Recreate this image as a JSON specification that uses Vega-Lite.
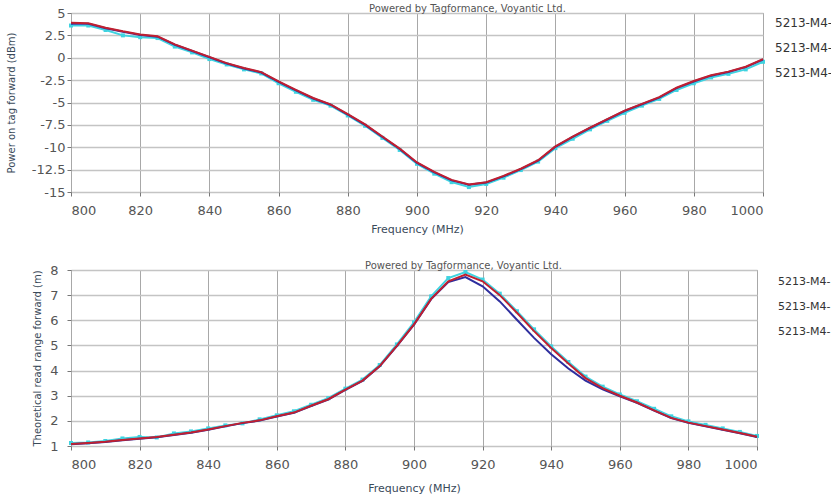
{
"$schema": "https://vega.github.io/schema/vega-lite/v6.json",
"padding": {"left": 5, "top": 3, "right": 0, "bottom": 0},
"bounds": "flush",
"spacing": 78,
"resolve": {"scale": {"color": "independent"}, "legend": {"color": "independent"}},
"config": {
  "font": "DejaVu Sans",
  "view": {"stroke": "#8a8a8a", "strokeWidth": 1},
  "axis": {"labelFont": "DejaVu Sans", "labelFontSize": 13, "labelColor": "#555555", "tickColor": "#777777", "tickSize": 4, "domain": false, "titleFont": "DejaVu Sans", "titleFontWeight": "normal", "titleColor": "#3a4a5a"},
  "axisX": {"gridColor": "#a8a8a8", "gridWidth": 1},
  "axisY": {"gridColor": "#c4c4c4", "gridWidth": 1.6},
  "legend": {"labelFont": "DejaVu Sans", "labelFontSize": 12, "labelColor": "#333333", "symbolSize": 0, "symbolOpacity": 0, "symbolStrokeWidth": 0, "labelOffset": 0, "padding": 0, "title": null}
},
"datasets": {
"power": [
{"s":"A","f":800,"v":3.6},{"s":"A","f":805,"v":3.6},{"s":"A","f":810,"v":3.1},{"s":"A","f":815,"v":2.5},{"s":"A","f":820,"v":2.3},{"s":"A","f":825,"v":2.2},{"s":"A","f":830,"v":1.25},{"s":"A","f":835,"v":0.6},{"s":"A","f":840,"v":-0.15},{"s":"A","f":845,"v":-0.75},{"s":"A","f":850,"v":-1.3},{"s":"A","f":855,"v":-1.75},{"s":"A","f":860,"v":-2.85},{"s":"A","f":865,"v":-3.8},{"s":"A","f":870,"v":-4.7},{"s":"A","f":875,"v":-5.35},{"s":"A","f":880,"v":-6.45},{"s":"A","f":885,"v":-7.6},{"s":"A","f":890,"v":-8.95},{"s":"A","f":895,"v":-10.3},{"s":"A","f":900,"v":-11.85},{"s":"A","f":905,"v":-12.95},{"s":"A","f":910,"v":-13.9},{"s":"A","f":915,"v":-14.45},{"s":"A","f":920,"v":-14.1},{"s":"A","f":925,"v":-13.4},{"s":"A","f":930,"v":-12.55},{"s":"A","f":935,"v":-11.6},{"s":"A","f":940,"v":-10.1},{"s":"A","f":945,"v":-9.05},{"s":"A","f":950,"v":-8.0},{"s":"A","f":955,"v":-7.05},{"s":"A","f":960,"v":-6.15},{"s":"A","f":965,"v":-5.35},{"s":"A","f":970,"v":-4.6},{"s":"A","f":975,"v":-3.6},{"s":"A","f":980,"v":-2.85},{"s":"A","f":985,"v":-2.2},{"s":"A","f":990,"v":-1.8},{"s":"A","f":995,"v":-1.3},{"s":"A","f":1000,"v":-0.45},
{"s":"C","f":800,"v":3.8},{"s":"C","f":805,"v":3.8},{"s":"C","f":810,"v":3.3},{"s":"C","f":815,"v":2.9},{"s":"C","f":820,"v":2.55},{"s":"C","f":825,"v":2.35},{"s":"C","f":830,"v":1.45},{"s":"C","f":835,"v":0.75},{"s":"C","f":840,"v":0.05},{"s":"C","f":845,"v":-0.65},{"s":"C","f":850,"v":-1.2},{"s":"C","f":855,"v":-1.65},{"s":"C","f":860,"v":-2.7},{"s":"C","f":865,"v":-3.65},{"s":"C","f":870,"v":-4.55},{"s":"C","f":875,"v":-5.25},{"s":"C","f":880,"v":-6.35},{"s":"C","f":885,"v":-7.5},{"s":"C","f":890,"v":-8.85},{"s":"C","f":895,"v":-10.2},{"s":"C","f":900,"v":-11.75},{"s":"C","f":905,"v":-12.8},{"s":"C","f":910,"v":-13.7},{"s":"C","f":915,"v":-14.2},{"s":"C","f":920,"v":-13.95},{"s":"C","f":925,"v":-13.25},{"s":"C","f":930,"v":-12.45},{"s":"C","f":935,"v":-11.5},{"s":"C","f":940,"v":-9.95},{"s":"C","f":945,"v":-8.85},{"s":"C","f":950,"v":-7.85},{"s":"C","f":955,"v":-6.9},{"s":"C","f":960,"v":-5.95},{"s":"C","f":965,"v":-5.2},{"s":"C","f":970,"v":-4.45},{"s":"C","f":975,"v":-3.4},{"s":"C","f":980,"v":-2.65},{"s":"C","f":985,"v":-2.0},{"s":"C","f":990,"v":-1.6},{"s":"C","f":995,"v":-1.05},{"s":"C","f":1000,"v":-0.2},
{"s":"B","f":800,"v":3.9},{"s":"B","f":805,"v":3.85},{"s":"B","f":810,"v":3.35},{"s":"B","f":815,"v":2.95},{"s":"B","f":820,"v":2.6},{"s":"B","f":825,"v":2.4},{"s":"B","f":830,"v":1.5},{"s":"B","f":835,"v":0.8},{"s":"B","f":840,"v":0.1},{"s":"B","f":845,"v":-0.6},{"s":"B","f":850,"v":-1.15},{"s":"B","f":855,"v":-1.6},{"s":"B","f":860,"v":-2.65},{"s":"B","f":865,"v":-3.6},{"s":"B","f":870,"v":-4.5},{"s":"B","f":875,"v":-5.2},{"s":"B","f":880,"v":-6.3},{"s":"B","f":885,"v":-7.45},{"s":"B","f":890,"v":-8.8},{"s":"B","f":895,"v":-10.15},{"s":"B","f":900,"v":-11.7},{"s":"B","f":905,"v":-12.75},{"s":"B","f":910,"v":-13.65},{"s":"B","f":915,"v":-14.15},{"s":"B","f":920,"v":-13.9},{"s":"B","f":925,"v":-13.2},{"s":"B","f":930,"v":-12.4},{"s":"B","f":935,"v":-11.45},{"s":"B","f":940,"v":-9.9},{"s":"B","f":945,"v":-8.8},{"s":"B","f":950,"v":-7.8},{"s":"B","f":955,"v":-6.85},{"s":"B","f":960,"v":-5.9},{"s":"B","f":965,"v":-5.15},{"s":"B","f":970,"v":-4.4},{"s":"B","f":975,"v":-3.35},{"s":"B","f":980,"v":-2.6},{"s":"B","f":985,"v":-1.95},{"s":"B","f":990,"v":-1.55},{"s":"B","f":995,"v":-1.0},{"s":"B","f":1000,"v":-0.15}
],
"range": [
{"s":"A","f":800,"v":1.12},{"s":"A","f":805,"v":1.14},{"s":"A","f":810,"v":1.2},{"s":"A","f":815,"v":1.3},{"s":"A","f":820,"v":1.36},{"s":"A","f":825,"v":1.34},{"s":"A","f":830,"v":1.5},{"s":"A","f":835,"v":1.58},{"s":"A","f":840,"v":1.7},{"s":"A","f":845,"v":1.82},{"s":"A","f":850,"v":1.9},{"s":"A","f":855,"v":2.06},{"s":"A","f":860,"v":2.22},{"s":"A","f":865,"v":2.38},{"s":"A","f":870,"v":2.64},{"s":"A","f":875,"v":2.9},{"s":"A","f":880,"v":3.28},{"s":"A","f":885,"v":3.64},{"s":"A","f":890,"v":4.22},{"s":"A","f":895,"v":5.04},{"s":"A","f":900,"v":5.92},{"s":"A","f":905,"v":6.95},{"s":"A","f":910,"v":7.68},{"s":"A","f":915,"v":7.92},{"s":"A","f":920,"v":7.62},{"s":"A","f":925,"v":7.06},{"s":"A","f":930,"v":6.36},{"s":"A","f":935,"v":5.64},{"s":"A","f":940,"v":4.96},{"s":"A","f":945,"v":4.34},{"s":"A","f":950,"v":3.76},{"s":"A","f":955,"v":3.36},{"s":"A","f":960,"v":3.05},{"s":"A","f":965,"v":2.78},{"s":"A","f":970,"v":2.48},{"s":"A","f":975,"v":2.18},{"s":"A","f":980,"v":1.98},{"s":"A","f":985,"v":1.84},{"s":"A","f":990,"v":1.7},{"s":"A","f":995,"v":1.56},{"s":"A","f":1000,"v":1.4},
{"s":"C","f":800,"v":1.07},{"s":"C","f":805,"v":1.11},{"s":"C","f":810,"v":1.16},{"s":"C","f":815,"v":1.23},{"s":"C","f":820,"v":1.29},{"s":"C","f":825,"v":1.35},{"s":"C","f":830,"v":1.44},{"s":"C","f":835,"v":1.53},{"s":"C","f":840,"v":1.65},{"s":"C","f":845,"v":1.78},{"s":"C","f":850,"v":1.91},{"s":"C","f":855,"v":2.01},{"s":"C","f":860,"v":2.17},{"s":"C","f":865,"v":2.32},{"s":"C","f":870,"v":2.59},{"s":"C","f":875,"v":2.85},{"s":"C","f":880,"v":3.23},{"s":"C","f":885,"v":3.59},{"s":"C","f":890,"v":4.17},{"s":"C","f":895,"v":4.97},{"s":"C","f":900,"v":5.83},{"s":"C","f":905,"v":6.84},{"s":"C","f":910,"v":7.52},{"s":"C","f":915,"v":7.72},{"s":"C","f":920,"v":7.35},{"s":"C","f":925,"v":6.75},{"s":"C","f":930,"v":6.02},{"s":"C","f":935,"v":5.3},{"s":"C","f":940,"v":4.65},{"s":"C","f":945,"v":4.08},{"s":"C","f":950,"v":3.6},{"s":"C","f":955,"v":3.25},{"s":"C","f":960,"v":2.98},{"s":"C","f":965,"v":2.72},{"s":"C","f":970,"v":2.41},{"s":"C","f":975,"v":2.11},{"s":"C","f":980,"v":1.92},{"s":"C","f":985,"v":1.78},{"s":"C","f":990,"v":1.65},{"s":"C","f":995,"v":1.51},{"s":"C","f":1000,"v":1.36},
{"s":"B","f":800,"v":1.08},{"s":"B","f":805,"v":1.12},{"s":"B","f":810,"v":1.17},{"s":"B","f":815,"v":1.24},{"s":"B","f":820,"v":1.3},{"s":"B","f":825,"v":1.36},{"s":"B","f":830,"v":1.45},{"s":"B","f":835,"v":1.54},{"s":"B","f":840,"v":1.66},{"s":"B","f":845,"v":1.79},{"s":"B","f":850,"v":1.92},{"s":"B","f":855,"v":2.02},{"s":"B","f":860,"v":2.18},{"s":"B","f":865,"v":2.33},{"s":"B","f":870,"v":2.6},{"s":"B","f":875,"v":2.86},{"s":"B","f":880,"v":3.24},{"s":"B","f":885,"v":3.6},{"s":"B","f":890,"v":4.18},{"s":"B","f":895,"v":4.98},{"s":"B","f":900,"v":5.84},{"s":"B","f":905,"v":6.85},{"s":"B","f":910,"v":7.55},{"s":"B","f":915,"v":7.82},{"s":"B","f":920,"v":7.55},{"s":"B","f":925,"v":7.0},{"s":"B","f":930,"v":6.3},{"s":"B","f":935,"v":5.57},{"s":"B","f":940,"v":4.9},{"s":"B","f":945,"v":4.28},{"s":"B","f":950,"v":3.7},{"s":"B","f":955,"v":3.3},{"s":"B","f":960,"v":3.0},{"s":"B","f":965,"v":2.73},{"s":"B","f":970,"v":2.42},{"s":"B","f":975,"v":2.12},{"s":"B","f":980,"v":1.93},{"s":"B","f":985,"v":1.79},{"s":"B","f":990,"v":1.66},{"s":"B","f":995,"v":1.52},{"s":"B","f":1000,"v":1.37}
]
},
"vconcat": [
{
  "title": {"text": "Powered by Tagformance, Voyantic Ltd.", "anchor": "start", "frame": "group", "dx": 298, "offset": -15, "baseline": "alphabetic", "fontSize": 10, "fontWeight": "normal", "color": "#555555", "font": "DejaVu Sans"},
  "width": 692, "height": 179,
  "data": {"name": "power"},
  "encoding": {
    "x": {"field": "f", "type": "quantitative", "scale": {"domain": [800, 1000], "nice": false, "zero": false},
          "axis": {"values": [800,820,840,860,880,900,920,940,960,980,1000], "format": "d", "title": "Frequency (MHz)", "labelPadding": 8, "titlePadding": 6, "titleFontSize": 11}},
    "y": {"field": "v", "type": "quantitative", "scale": {"domain": [-15, 5], "nice": false, "zero": false},
          "axis": {"values": [-15,-12.5,-10,-7.5,-5,-2.5,0,2.5,5], "format": ".1~f", "labelExpr": "replace(datum.label, '\u2212', '-')", "title": "Power on tag forward (dBm)", "titleFontSize": 10, "labelPadding": 2, "titlePadding": 15}}
  },
  "layer": [
    {"transform": [{"filter": "datum.s === 'A'"}], "mark": {"type": "square", "size": 16, "color": "#3fd3e0", "opacity": 1}},
    {"mark": {"type": "line", "strokeWidth": 2},
     "encoding": {"color": {"field": "s", "type": "nominal", "scale": {"domain": ["A","B","C"], "range": ["#3fd3e0", "#c02030", "#2e2e9e"]},
       "legend": {"orient": "none", "legendX": 692, "legendY": 4, "rowPadding": 13, "labelExpr": "'5213-M4-'"}},
       "opacity": {"field": "s", "type": "nominal", "scale": {"domain": ["A","B","C"], "range": [1, 1, 0.8]}, "legend": null}}}
  ]
},
{
  "title": {"text": "Powered by Tagformance, Voyantic Ltd.", "anchor": "start", "frame": "group", "dx": 294, "offset": -15, "baseline": "alphabetic", "fontSize": 10, "fontWeight": "normal", "color": "#555555", "font": "DejaVu Sans"},
  "width": 686, "height": 176,
  "data": {"name": "range"},
  "encoding": {
    "x": {"field": "f", "type": "quantitative", "scale": {"domain": [800, 1000], "nice": false, "zero": false},
          "axis": {"values": [800,820,840,860,880,900,920,940,960,980,1000], "format": "d", "title": "Frequency (MHz)", "labelPadding": 8, "titlePadding": 11, "titleFontSize": 11}},
    "y": {"field": "v", "type": "quantitative", "scale": {"domain": [1, 8], "nice": false, "zero": false},
          "axis": {"values": [1,2,3,4,5,6,7,8], "title": "Theoretical read range forward (m)", "titleFontSize": 10, "labelPadding": 9, "titlePadding": 7}}
  },
  "layer": [
    {"transform": [{"filter": "datum.s === 'A'"}], "mark": {"type": "square", "size": 16, "color": "#3fd3e0", "opacity": 1}},
    {"mark": {"type": "line", "strokeWidth": 2},
     "encoding": {"color": {"field": "s", "type": "nominal", "scale": {"domain": ["A","B","C"], "range": ["#3fd3e0", "#c02030", "#2e2e9e"]},
       "legend": {"orient": "none", "legendX": 696, "legendY": 6, "rowPadding": 13, "labelFontSize": 11, "labelExpr": "'5213-M4-'"}},
       "opacity": {"field": "s", "type": "nominal", "scale": {"domain": ["A","B","C"], "range": [1, 1, 0.8]}, "legend": null}}}
  ]
}
]
}
